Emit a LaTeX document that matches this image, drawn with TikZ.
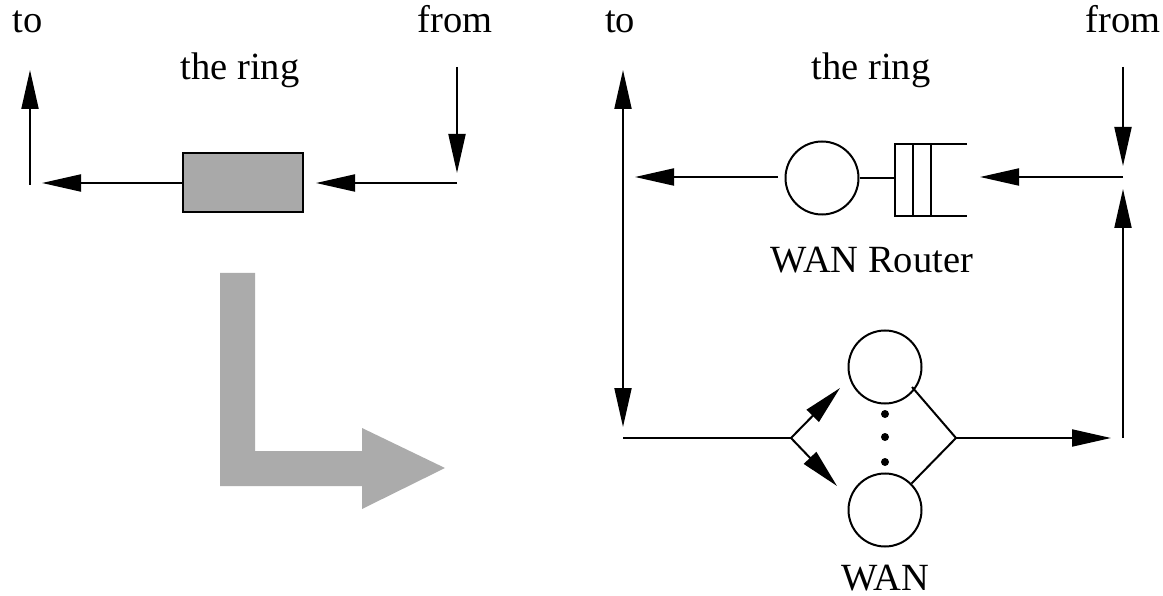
\documentclass[tikz,border=0pt]{standalone}
\usepackage{fontspec}
\setmainfont{Liberation Serif}
\usetikzlibrary{arrows.meta}
\begin{document}
\begin{tikzpicture}[x=1pt,y=-1pt,
  every node/.style={font=\fontsize{38.5pt}{40pt}\selectfont},
  lab/.style={anchor=base,inner sep=0pt},
  ln/.style={line width=2pt},
  arr/.style={line width=2pt,-{Triangle[length=39pt,width=17pt]}},
  dbl/.style={line width=2pt,{Triangle[length=39pt,width=17pt]}-{Triangle[length=39pt,width=17pt]}},
  srv/.style={circle,draw,line width=2pt,minimum size=73pt,inner sep=0pt},
  boxnode/.style={rectangle,draw,line width=2pt,fill=boxgray,minimum width=120pt,minimum height=59pt,inner sep=0pt}]
\definecolor{boxgray}{HTML}{A9A9A9}
\definecolor{bigarrow}{HTML}{ABABAB}
\useasboundingbox (0,0) rectangle (1163,596);
% ---------- left panel ----------
\node[lab] (lto) at (27.5,33) {to};
\node[lab] (lfrom) at (455,33) {from};
\node[lab] (lring) at (240,80) {the ring};
\node[boxnode] (lbox) at (243,183) {};
\coordinate (lupB) at (30,185);
\coordinate (lupT) at (30,70);
\coordinate (lout) at (42,183);
\coordinate (lin) at (457,183);
\coordinate (ldnT) at (457,67);
\coordinate (ldnB) at (457,173);
\draw[arr] (lupB) -- (lupT);
\draw[arr] (lbox.west) -- (lout);
\draw[arr,shorten >=12pt] (lin) -- (lbox.east);
\draw[arr] (ldnT) -- (ldnB);
% big gray L arrow
\fill[bigarrow] (220,273) -- (255,273) -- (255,451) -- (362,451) -- (362,428)
  -- (445,468) -- (362,509) -- (362,486) -- (220,486) -- cycle;
% ---------- right panel ----------
\node[lab] (rto) at (620,33) {to};
\node[lab] (rfrom) at (1123,33) {from};
\node[lab] (rring) at (871,80) {the ring};
\node[lab] (rlab) at (872,273) {WAN Router};
\node[lab] (wlab) at (885,590) {WAN};
% left vertical
\coordinate (lvT) at (623,70);
\coordinate (lvB) at (623,427);
\draw[dbl] (lvB) -- (lvT);
% router
\node[srv] (rc) at (822,178) {};
\coordinate (q) at (895,178);
\draw[ln] (rc.east) -- (q);
\draw[ln] (967,144) -- (895,144) -- (895,216) -- (967,216);
\draw[ln] (913,144) -- (913,216);
\draw[ln] (931,144) -- (931,216);
\coordinate (rout) at (778,177);
\coordinate (routT) at (635,177);
\draw[arr] (rout) -- (routT);
\coordinate (rin) at (1123,177);
\coordinate (rinT) at (980,177);
\draw[arr] (rin) -- (rinT);
% right vertical
\coordinate (rvT) at (1123,67);
\coordinate (rvTt) at (1123,166);
\coordinate (rvB) at (1123,438);
\coordinate (rvBt) at (1123,189);
\draw[arr] (rvT) -- (rvTt);
\draw[arr] (rvB) -- (rvBt);
% WAN
\node[srv] (w1) at (885,367) {};
\node[srv] (w2) at (885,510) {};
\fill (885,414) circle (4pt);
\fill (885,437) circle (4pt);
\fill (885,462) circle (4pt);
\coordinate (bstart) at (623,438);
\coordinate (fork) at (791,438);
\coordinate (f1) at (840,388);
\coordinate (f2) at (837,486);
\draw[ln] (bstart) -- (fork);
\draw[arr] (fork) -- (f1);
\draw[arr] (fork) -- (f2);
\coordinate (join) at (956,438);
\coordinate (jend) at (1111,438);
\draw[ln] (912,387) -- (join) -- (w2.45);
\draw[arr] (join) -- (jend);
\end{tikzpicture}
\end{document}
